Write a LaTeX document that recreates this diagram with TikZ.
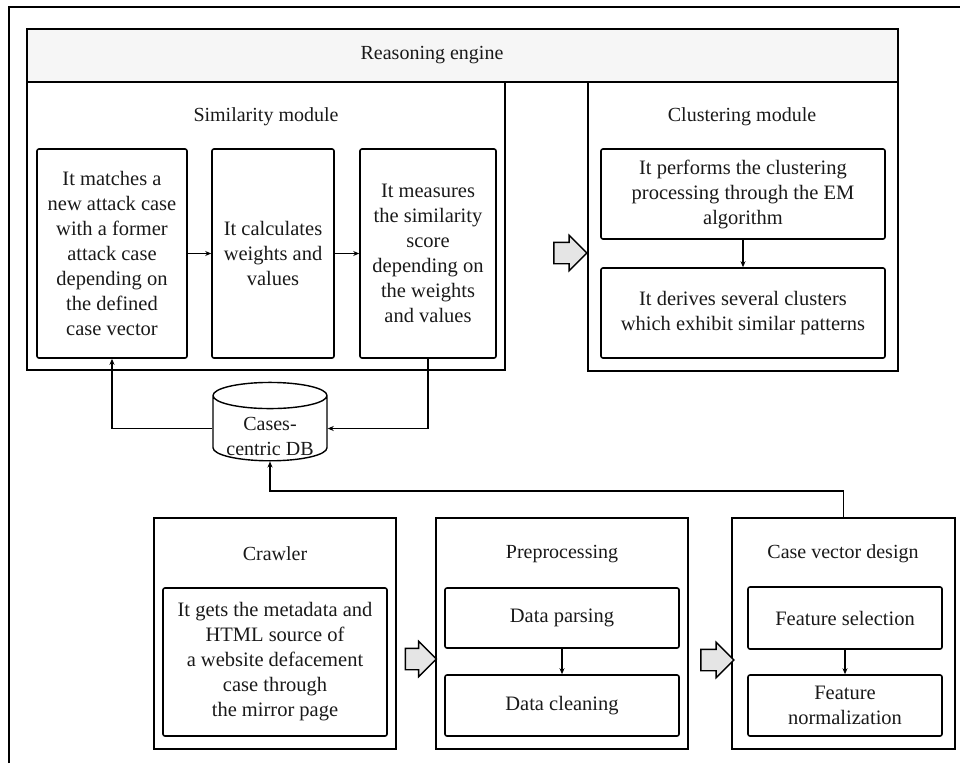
\documentclass[tikz,border=0pt]{standalone}
\usepackage{fontspec}
\setmainfont{Liberation Serif}
\usetikzlibrary{shapes.geometric,shapes.arrows,arrows.meta}

\begin{document}
\begin{tikzpicture}[x=1pt,y=-1pt,
    every node/.style={font=\fontsize{20}{25}\selectfont,text=black!90},
    module/.style={draw,line width=1.6pt,inner sep=0pt},
    task/.style={draw,line width=1.6pt,rounded corners=2pt,align=center,inner sep=0pt,
      font=\fontsize{20.5}{25}\selectfont},
    hollow/.style={single arrow,draw,line width=1.4pt,fill=gray!20,inner xsep=0pt,inner ysep=10pt,
      minimum height=33pt,single arrow head extend=7pt},
    link/.style={-{Stealth[length=6pt,width=5pt]},line width=1.3pt}]
      \useasboundingbox (0,0) rectangle (960,763);
      % outer frame
      \draw[line width=2.6pt] (9,763) -- (9,7) -- (960,7);
      % reasoning engine
      \node[module,fill=gray!7,minimum width=871pt,minimum height=53pt](engine) at (462.5,55.5){};
      \node(enginetitle) at (432,55){Reasoning engine};
      \node[module,minimum width=478pt,minimum height=288pt](simmod) at (266,226){};
      \node(simtitle) at (266,117){Similarity module};
      \node[task,minimum width=150pt,minimum height=209pt](match) at (112,253.5){It matches a\\new attack case\\with a former\\attack case\\depending on\\the defined\\case vector};
      \node[task,minimum width=122pt,minimum height=209pt](calc) at (273,253.5){It calculates\\weights and\\values};
      \node[task,minimum width=136pt,minimum height=209pt](measure) at (428,253.5){It measures\\the similarity\\score\\depending on\\the weights\\and values};
      \node[module,minimum width=310pt,minimum height=289pt](clumod) at (743,226.5){};
      \node(clutitle) at (742,117){Clustering module};
      \node[task,minimum width=284pt,minimum height=90pt](perform) at (743,194){It performs the clustering\\processing through the EM\\algorithm};
      \node[task,minimum width=284pt,minimum height=90pt](derive) at (743,313){It derives several clusters\\which exhibit similar patterns};
      \node[hollow](toclu) at (565,253){};
      \draw[link] (match) -- (calc);
      \draw[link] (calc) -- (measure);
      \draw[link] (perform) -- (derive);
      % database
      \node[draw,cylinder,shape border rotate=90,aspect=0.3,line width=1.4pt,inner sep=0pt,align=center,
        minimum width=114pt,minimum height=67pt](db) at (270,428.5){\phantom{Cases-}\\\phantom{centric DB}};
      \node[align=center](dblabel) at (270,436){Cases-\\centric DB};
      \draw[link] (measure.south) |- (db.east);
      \draw[link] (db.west) -| (match.south);
      % lower modules
      \node[module,minimum width=242pt,minimum height=231pt](crawler) at (275,633.5){};
      \node(crawtitle) at (275,554){Crawler};
      \node[task,minimum width=224pt,minimum height=148pt](fetch) at (275,662){It gets the metadata and\\HTML source of\\a website defacement\\case through\\the mirror page};
      \node[module,minimum width=252pt,minimum height=231pt](prep) at (562,633.5){};
      \node(preptitle) at (562,554){Preprocessing};
      \node[task,minimum width=234pt,minimum height=60pt](parse) at (562,618){Data parsing};
      \node[task,minimum width=234pt,minimum height=61pt](clean) at (562,705.5){Data cleaning};
      \node[module,minimum width=223pt,minimum height=231pt](cvd) at (843.5,633.5){};
      \node(cvdtitle) at (843,554){Case vector design};
      \node[task,minimum width=194pt,minimum height=62pt](fsel) at (845,618){Feature selection};
      \node[task,minimum width=194pt,minimum height=61pt](fnorm) at (845,705.5){Feature\\normalization};
      \node[hollow,minimum height=31pt](toprep) at (415.5,659){};
      \node[hollow](tocvd) at (712,660){};
      \draw[link] (parse) -- (clean);
      \draw[link] (fsel) -- (fnorm);
      \coordinate (bus) at (0,491);
      \draw[link] (cvd.north) -- (cvd.north |- bus) -| (db.south);
    \end{tikzpicture}
\end{document}
